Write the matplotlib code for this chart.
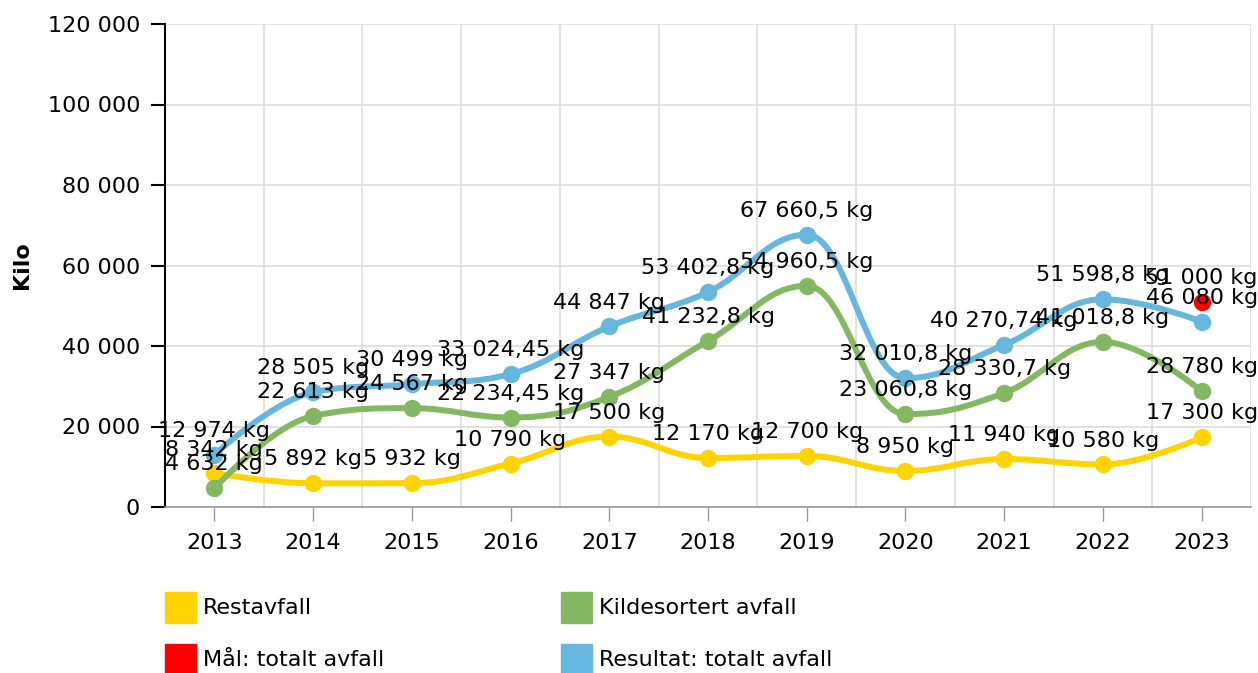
import matplotlib
matplotlib.use("Agg")
import matplotlib.pyplot as plt
from matplotlib.path import Path
from matplotlib.patches import PathPatch, Rectangle

# Data (kilo per year)
years = ["2013", "2014", "2015", "2016", "2017", "2018", "2019", "2020", "2021", "2022", "2023"]
restavfall = [8342, 5892, 5932, 10790, 17500, 12170, 12700, 8950, 11940, 10580, 17300]
kildesortert = [4632, 22613, 24567, 22234.45, 27347, 41232.8, 54960.5, 23060.8, 28330.7, 41018.8, 28780]
resultat = [12974, 28505, 30499, 33024.45, 44847, 53402.8, 67660.5, 32010.8, 40270.74, 51598.8, 46080]
maal_year = "2023"
maal_value = 51000

colors = {
    "Restavfall": "#FFD300",
    "Kildesortert avfall": "#84B761",
    "Mål: totalt avfall": "#FF0000",
    "Resultat: totalt avfall": "#66B6DD",
}

FONT = 16
plt.rcParams["font.family"] = ["DejaVu Sans"]


def fmt_kg(v):
    # norwegian style: space as thousands separator, comma as decimal mark
    s = f"{v:,.2f}".rstrip("0").rstrip(".")
    s = s.replace(",", " ").replace(".", ",")
    return s + " kg"


def spline_path(xs, ys, smoothing=1.5):
    # smooth curve through the points, same idea as a highcharts spline
    n = len(xs)
    left = [(xs[i], ys[i]) for i in range(n)]
    right = [(xs[i], ys[i]) for i in range(n)]
    denom = smoothing + 1
    for i in range(1, n - 1):
        px, py = xs[i], ys[i]
        lx, ly = xs[i - 1], ys[i - 1]
        nx, ny = xs[i + 1], ys[i + 1]
        lcx = (smoothing * px + lx) / denom
        lcy = (smoothing * py + ly) / denom
        rcx = (smoothing * px + nx) / denom
        rcy = (smoothing * py + ny) / denom
        corr = ((rcy - lcy) * (rcx - px)) / (rcx - lcx) + py - rcy
        lcy += corr
        rcy += corr
        if lcy > ly and lcy > py:
            lcy = max(ly, py)
            rcy = 2 * py - lcy
        elif lcy < ly and lcy < py:
            lcy = min(ly, py)
            rcy = 2 * py - lcy
        if rcy > ny and rcy > py:
            rcy = max(ny, py)
            lcy = 2 * py - rcy
        elif rcy < ny and rcy < py:
            rcy = min(ny, py)
            lcy = 2 * py - rcy
        left[i] = (lcx, lcy)
        right[i] = (rcx, rcy)
    verts = [(xs[0], ys[0])]
    codes = [Path.MOVETO]
    for i in range(1, n):
        verts += [right[i - 1], left[i], (xs[i], ys[i])]
        codes += [Path.CURVE4] * 3
    return Path(verts, codes)


fig = plt.figure(figsize=(12.58, 6.73), dpi=100)
W, H = 1258, 673
ax = fig.add_axes([165 / W, 166 / H, 1086 / W, 483 / H])

x = list(range(len(years)))
series = [
    ("Restavfall", restavfall),
    ("Kildesortert avfall", kildesortert),
    ("Resultat: totalt avfall", resultat),
]

z = 3
for name, vals in series:
    c = colors[name]
    ax.add_patch(PathPatch(spline_path(x, vals), fill=False, edgecolor=c, lw=4.3,
                           capstyle="round", joinstyle="round", zorder=z))
    ax.plot(x, vals, "o", color=c, markersize=11.5, zorder=z + 0.5)
    z += 1

mx = years.index(maal_year)
ax.plot([mx], [maal_value], "o", color=colors["Mål: totalt avfall"], markersize=11.5, zorder=4.8)

# value labels above every point
for name, vals in series:
    for xi, v in zip(x, vals):
        ax.annotate(fmt_kg(v), (xi, v), textcoords="offset points", xytext=(0, 10),
                    ha="center", va="bottom", fontsize=FONT, color="black", zorder=10)
ax.annotate(fmt_kg(maal_value), (mx, maal_value), textcoords="offset points", xytext=(0, 10),
            ha="center", va="bottom", fontsize=FONT, color="black", zorder=10)

ax.set_xlim(-0.5, len(years) - 0.5)
ax.set_ylim(0, 120000)
ax.set_xticks(x)
ax.set_xticklabels(years)
ax.set_yticks(range(0, 120001, 20000))
ax.set_yticklabels([f"{v:,}".replace(",", " ") for v in range(0, 120001, 20000)])
ax.set_xticks([i - 0.5 for i in range(len(years) + 1)], minor=True)
ax.tick_params(axis="x", which="major", length=10, width=1, color="#999999",
               labelsize=FONT, pad=9)
ax.tick_params(axis="x", which="minor", length=0)
ax.tick_params(axis="y", length=10, width=1.5, color="black", labelsize=FONT, pad=8)
ax.grid(True, axis="y", color="#dddddd", lw=1.2)
ax.grid(True, axis="x", which="minor", color="#dddddd", lw=1.2)
ax.set_axisbelow(True)
for side in ["top", "right"]:
    ax.spines[side].set_visible(False)
ax.spines["left"].set_linewidth(1.5)
ax.spines["bottom"].set_color("#999999")
ax.spines["bottom"].set_linewidth(1.2)
fig.text(22 / W, 1 - 265 / H, "Kilo", rotation=90, ha="center", va="center",
         fontsize=FONT, fontweight="bold")

# legend drawn by hand, two columns
legend_items = [
    ("Restavfall", 165, 592),
    ("Kildesortert avfall", 561, 592),
    ("Mål: totalt avfall", 165, 644),
    ("Resultat: totalt avfall", 561, 644),
]
for name, lx, ly in legend_items:
    fig.patches.append(Rectangle((lx / W, 1 - (ly + 31) / H), 31 / W, 31 / H,
                                 transform=fig.transFigure, color=colors[name]))
    fig.text((lx + 38) / W, 1 - (ly + 16) / H, name, ha="left", va="center",
             fontsize=FONT, color="black")

fig.savefig("out.png", dpi=100)
